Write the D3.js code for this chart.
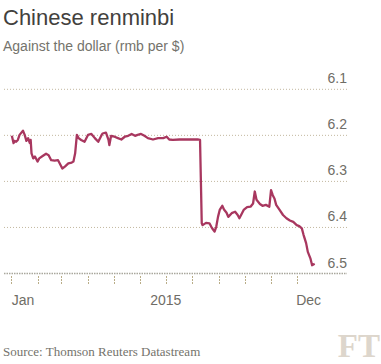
<!DOCTYPE html>
<html><head><meta charset="utf-8">
<script src="https://cdn.jsdelivr.net/npm/d3@7"></script>
<style>
html,body{margin:0;padding:0;background:#fff;}
svg{display:block;}
</style></head>
<body>
<svg id="c" width="381" height="364"></svg>
<script>
const title = "Chinese renminbi";
const subtitle = "Against the dollar (rmb per $)";
const source = "Source: Thomson Reuters Datastream";
const yTicks = [6.1, 6.2, 6.3, 6.4, 6.5];
const tickMonths = ["2015-01-01","2015-02-01","2015-03-01","2015-04-01","2015-05-01","2015-06-01","2015-07-01","2015-08-01","2015-09-01","2015-10-01","2015-11-01","2015-12-01"];
const xLabels = ["Jan","2015","Dec"];
const xLabelDates = ["2015-01-15","2015-07-01","2015-12-15"];
const dates = ["2015-01-02","2015-01-04","2015-01-05","2015-01-07","2015-01-09","2015-01-11","2015-01-15","2015-01-17","2015-01-19","2015-01-21","2015-01-23","2015-01-24","2015-01-25","2015-01-27","2015-01-29","2015-02-01","2015-02-03","2015-02-07","2015-02-11","2015-02-14","2015-02-17","2015-02-21","2015-02-25","2015-02-27","2015-03-02","2015-03-05","2015-03-09","2015-03-13","2015-03-15","2015-03-17","2015-03-19","2015-03-21","2015-03-24","2015-03-28","2015-04-01","2015-04-05","2015-04-09","2015-04-13","2015-04-17","2015-04-18","2015-04-22","2015-04-25","2015-04-26","2015-04-28","2015-05-02","2015-05-06","2015-05-10","2015-05-14","2015-05-18","2015-05-22","2015-05-26","2015-05-29","2015-06-02","2015-06-06","2015-06-10","2015-06-16","2015-06-22","2015-06-28","2015-07-02","2015-07-05","2015-07-09","2015-07-17","2015-07-25","2015-08-02","2015-08-08","2015-08-10","2015-08-11","2015-08-12","2015-08-13","2015-08-17","2015-08-21","2015-08-23","2015-08-25","2015-08-27","2015-08-29","2015-08-31","2015-09-02","2015-09-05","2015-09-07","2015-09-10","2015-09-12","2015-09-16","2015-09-20","2015-09-23","2015-09-25","2015-09-27","2015-09-30","2015-10-04","2015-10-08","2015-10-11","2015-10-13","2015-10-15","2015-10-19","2015-10-22","2015-10-26","2015-10-30","2015-11-01","2015-11-03","2015-11-05","2015-11-07","2015-11-11","2015-11-15","2015-11-19","2015-11-23","2015-11-27","2015-12-01","2015-12-04","2015-12-07","2015-12-09","2015-12-12","2015-12-14","2015-12-17","2015-12-19","2015-12-22"];
const rates = [6.201,6.217,6.212,6.214,6.210,6.199,6.190,6.199,6.212,6.206,6.217,6.210,6.239,6.250,6.246,6.257,6.250,6.245,6.240,6.243,6.254,6.255,6.254,6.261,6.272,6.268,6.261,6.259,6.257,6.239,6.199,6.206,6.210,6.214,6.199,6.197,6.206,6.214,6.199,6.196,6.194,6.210,6.221,6.201,6.203,6.206,6.209,6.203,6.201,6.197,6.201,6.199,6.197,6.201,6.206,6.209,6.206,6.206,6.203,6.209,6.210,6.209,6.209,6.209,6.209,6.210,6.300,6.391,6.395,6.390,6.391,6.398,6.404,6.409,6.398,6.377,6.362,6.353,6.361,6.368,6.377,6.369,6.366,6.373,6.380,6.373,6.362,6.356,6.355,6.348,6.322,6.340,6.349,6.353,6.351,6.355,6.319,6.330,6.337,6.351,6.362,6.373,6.380,6.385,6.388,6.395,6.397,6.402,6.416,6.434,6.453,6.467,6.482,6.479];

const parse = d3.utcParse("%Y-%m-%d");
const svg = d3.select("#c");

const x = d3.scaleUtc().domain([parse("2015-01-01"), parse("2015-12-01")]).range([11, 296.7]);
const y = d3.scaleLinear().domain([6.1, 6.5]).range([89.3, 273.5]);
const left = 4, right = 347;

// titles
svg.append("text").attr("x", 3).attr("y", 25).text(title)
  .attr("font-family", "'Liberation Sans', Arial, sans-serif").attr("font-size", 22).attr("fill", "#43413d");
svg.append("text").attr("x", 3).attr("y", 51).text(subtitle)
  .attr("font-family", "'Liberation Sans', Arial, sans-serif").attr("font-size", 14).attr("fill", "#74736c");

// gridlines
const grid = svg.append("g");
yTicks.slice(0, -1).forEach(v => {
  grid.append("line").attr("x1", left).attr("x2", right).attr("y1", y(v)).attr("y2", y(v))
    .attr("stroke", "#c2b79f").attr("stroke-width", 1).attr("stroke-dasharray", "1,2");
});

// y labels
svg.append("g").selectAll("text").data(yTicks).join("text")
  .attr("x", right).attr("y", d => y(d) - 6).attr("text-anchor", "end")
  .attr("font-family", "'Liberation Sans', Arial, sans-serif").attr("font-size", 14).attr("fill", "#6f6d66")
  .text(d => d3.format(".1f")(d));

// x axis ticks
const gx = svg.append("g");
gx.selectAll("line").data(tickMonths).join("line")
  .attr("x1", d => Math.round(x(parse(d))) + 0.5).attr("x2", d => Math.round(x(parse(d))) + 0.5)
  .attr("y1", 276).attr("y2", 284)
  .attr("stroke", "#b9ad88").attr("stroke-width", 1).attr("stroke-dasharray", "2,1");
svg.append("line").attr("x1", left).attr("x2", right).attr("y1", y(6.5)).attr("y2", y(6.5))
  .attr("stroke", "#a9a79c").attr("stroke-width", 1.5).attr("stroke-dasharray", "1.5,1");

svg.append("g").selectAll("text").data(xLabels).join("text")
  .attr("x", (d, i) => x(parse(xLabelDates[i]))).attr("y", 305).attr("text-anchor", "middle")
  .attr("font-family", "'Liberation Sans', Arial, sans-serif").attr("font-size", 14).attr("fill", "#6f6d66")
  .text(d => d);

// line
const line = d3.line().x((d, i) => x(parse(dates[i]))).y(d => y(d)).curve(d3.curveLinear);
svg.append("path").datum(rates).attr("d", line).attr("fill", "none")
  .attr("stroke", "#a8375f").attr("stroke-width", 2.3).attr("stroke-linejoin", "round");

// source
svg.append("text").attr("x", 3).attr("y", 356).text(source)
  .attr("font-family", "'Liberation Serif', 'Times New Roman', serif").attr("font-size", 13).attr("fill", "#74736c");

// FT logo
svg.append("text").attr("x", 380).attr("y", 357).attr("text-anchor", "end").text("FT")
  .attr("font-family", "'Liberation Serif', serif").attr("font-size", 33).attr("font-weight", "bold")
  .attr("fill", "#ddd6cc");
</script>
</body></html>
